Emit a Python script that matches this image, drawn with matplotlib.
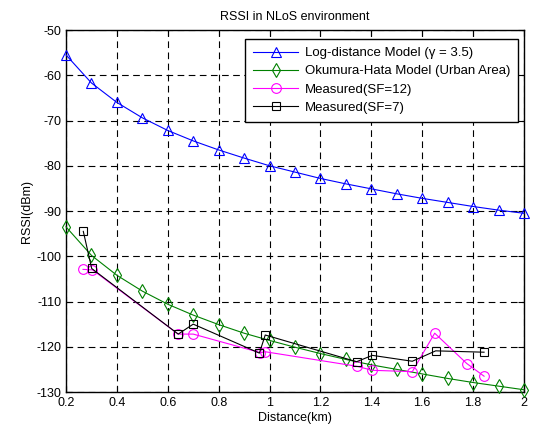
import numpy as np
import matplotlib
matplotlib.use("Agg")
import matplotlib.pyplot as plt

# model curves
d_model = [0.2, 0.3, 0.4, 0.5, 0.6, 0.7, 0.8, 0.9, 1.0, 1.1,
           1.2, 1.3, 1.4, 1.5, 1.6, 1.7, 1.8, 1.9, 2.0]
rssi_logdist = [-55.5, -61.7, -66.0, -69.4, -72.2, -74.5, -76.5, -78.3, -80.0, -81.4,
                -82.8, -84.0, -85.1, -86.2, -87.2, -88.1, -89.0, -89.8, -90.5]
rssi_hata = [-93.5, -99.8, -104.2, -107.7, -110.6, -113.0, -115.1, -117.0, -118.6, -120.1,
             -121.5, -122.8, -124.0, -125.0, -126.0, -127.0, -127.9, -128.7, -129.5]

# measurements
d_sf12 = [0.267, 0.304, 0.641, 0.70, 0.964, 0.983, 1.342, 1.404, 1.561, 1.649, 1.775, 1.843]
rssi_sf12 = [-102.9, -103.0, -117.2, -117.2, -121.3, -121.1, -124.3, -125.2, -125.5, -117.0, -123.7, -126.5]
d_sf7 = [0.268, 0.301, 0.641, 0.70, 0.96, 0.983, 1.342, 1.404, 1.561, 1.653, 1.843]
rssi_sf7 = [-94.5, -102.7, -117.2, -115.0, -121.4, -117.4, -123.3, -121.9, -123.2, -120.9, -121.2]

plt.rcParams['font.family'] = ['Liberation Sans', 'DejaVu Sans']
plt.rcParams['font.size'] = 9
plt.rcParams['axes.unicode_minus'] = False

fig = plt.figure(figsize=(5.37, 4.29), dpi=100)
ax = fig.add_axes([0.1229, 0.0862, 0.8529, 0.8438])

ax.plot(d_model, rssi_logdist, '-^', color='blue', lw=0.8, ms=7.5, mfc='none', mew=0.8,
        label='Log-distance Model (\u03b3 = 3.5)', clip_on=False, zorder=3)
ax.plot(d_model, rssi_hata, '-d', color='green', lw=0.8, ms=7, mfc='none', mew=0.8,
        label='Okumura-Hata Model (Urban Area)', clip_on=False, zorder=3)
ax.plot(d_sf12, rssi_sf12, '-o', color='magenta', lw=0.8, ms=7, mfc='none', mew=0.8,
        label='Measured(SF=12)', clip_on=False, zorder=3)
ax.plot(d_sf7, rssi_sf7, '-s', color='black', lw=0.8, ms=6, mfc='none', mew=0.8,
        label='Measured(SF=7)', clip_on=False, zorder=3)

ax.set_xlim(0.2, 2)
ax.set_ylim(-130, -50)
ax.set_xticks(np.arange(0.2, 2.01, 0.2))
ax.set_xticklabels(['0.2', '0.4', '0.6', '0.8', '1', '1.2', '1.4', '1.6', '1.8', '2'])
ax.set_yticks(np.arange(-130, -49, 10))
ax.tick_params(direction='in', length=4, top=True, right=True, labelsize=9)
ax.grid(True, color='black', linestyle=(0, (6, 4)), lw=0.8)
for s in ax.spines.values():
    s.set_linewidth(1.0)

ax.set_xlabel('Distance(km)', labelpad=2)
ax.set_ylabel('RSSI(dBm)', labelpad=2)
ax.set_title('RSSI in NLoS environment', fontsize=9, pad=7)

leg = ax.legend(loc='upper right', bbox_to_anchor=(0.987, 0.975), borderaxespad=0,
                fancybox=False, framealpha=1, edgecolor='black', borderpad=0.6,
                handlelength=3.4, handletextpad=0.5, labelspacing=0.45, fontsize=9.5)
leg.get_frame().set_linewidth(1.0)

fig.savefig('out.png', dpi=100)
